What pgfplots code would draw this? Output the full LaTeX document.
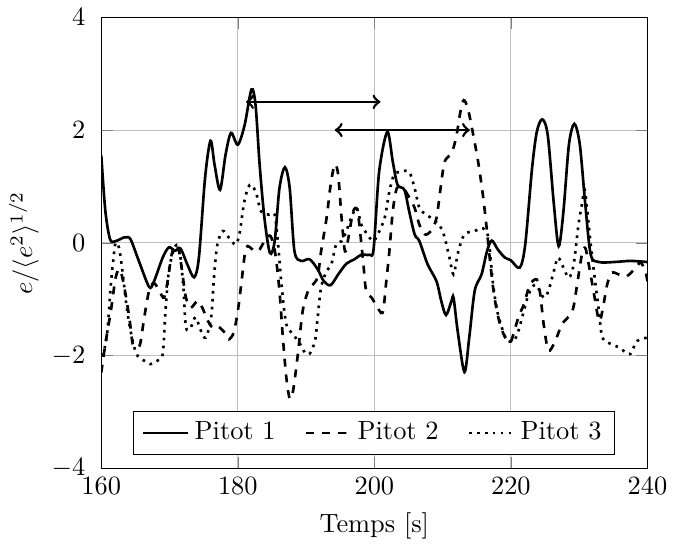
\documentclass[border=0pt]{standalone}
\usepackage{pgfplots}
\pgfplotsset{compat=1.18}
\begin{document}
\begin{tikzpicture}
\begin{axis}[
  scale only axis,
  width=207pt, height=171pt,
  xmin=160, xmax=240, ymin=-4, ymax=4,
  xtick={160,180,200,220,240},
  ytick={-4,-2,0,2,4},
  grid=major,
  yticklabel style={xshift=-2.5pt},
  ylabel style={yshift=-2pt},
  xlabel={Temps [s]},
  ylabel={$e/\langle e^2\rangle^{1/2}$},
  legend columns=3,
  legend style={at={(0.5,0.03)}, anchor=south, draw=black,
    /tikz/every even column/.append style={column sep=9pt}},
]
\addplot[black, line width=1pt, smooth, tension=0.5] coordinates {
(160,1.55) (160.6,0.56) (161.3,0.06) (162.1,0.03) (163.0,0.08) (163.6,0.10)
(164.3,0.06) (165.5,-0.32) (167.0,-0.78) (167.7,-0.69) (169.0,-0.26) (169.9,-0.08)
(170.8,-0.14) (171.6,-0.10) (172.6,-0.38) (173.6,-0.61) (174.3,-0.26) (175.2,1.15)
(176.0,1.81) (176.6,1.38) (177.4,0.94) (178.2,1.56) (179.0,1.95) (180.0,1.74)
(181.0,2.09) (182.0,2.72) (182.6,2.44) (183.2,1.38) (183.9,0.44) (184.7,-0.18)
(185.4,0.03) (186.1,0.97) (186.9,1.34) (187.6,0.97) (188.3,-0.15) (189.3,-0.32)
(190.5,-0.29) (191.7,-0.47) (192.6,-0.68) (193.6,-0.75) (194.7,-0.56) (195.9,-0.37)
(197.1,-0.29) (198.1,-0.21) (199.3,-0.21) (199.9,-0.10) (200.7,1.26) (201.9,1.97)
(202.7,1.44) (203.4,1.03) (204.4,0.94) (205.1,0.56) (205.9,0.15) (206.6,0.03)
(207.8,-0.38) (209.1,-0.68) (209.8,-1.03) (210.5,-1.28) (211.3,-1.03) (211.6,-0.97)
(212.2,-1.56) (213.2,-2.29) (213.9,-1.68) (214.7,-0.85) (215.7,-0.56) (216.5,-0.15)
(217.2,0.04) (218.1,-0.12) (219.1,-0.26) (220.0,-0.31) (221.3,-0.44) (222.1,-0.03)
(223.1,1.32) (223.8,1.97) (224.6,2.19) (225.4,1.91) (226.3,0.68) (227.0,-0.06)
(227.7,0.56) (228.5,1.74) (229.3,2.11) (230.1,1.74) (230.9,0.68) (231.7,-0.21)
(232.9,-0.34) (235.1,-0.34) (237.5,-0.32) (240.0,-0.34)
};
\addlegendentry{Pitot 1}
\addplot[black, line width=1pt, dashed, smooth, tension=0.5] coordinates {
(160.0,-2.3) (160.6,-1.79) (161.4,-1.21) (162.1,-0.62) (162.7,-0.47) (163.3,-0.74)
(164.1,-1.32) (164.6,-1.79) (165.2,-1.85) (165.7,-1.79) (166.3,-1.32) (167.0,-0.85)
(167.7,-0.71) (168.5,-0.85) (169.2,-0.97) (169.8,-0.62) (170.3,-0.21) (170.9,-0.03)
(171.4,-0.15) (171.9,-0.56) (172.4,-0.97) (173.1,-1.15) (174.1,-1.03) (174.8,-1.15)
(175.6,-1.38) (176.3,-1.5) (177.0,-1.47) (178.3,-1.62) (178.7,-1.71) (179.4,-1.59)
(180.0,-1.21) (180.5,-0.74) (181.2,-0.09) (182.2,-0.12) (183.0,-0.15) (184.0,0.05)
(184.8,0.12) (185.5,-0.2) (186.1,-0.85) (186.6,-1.68) (187.1,-2.38) (187.6,-2.76)
(188.1,-2.62) (188.8,-1.97) (189.5,-1.21) (190.3,-0.85) (191.0,-0.74) (191.7,-0.6)
(192.2,-0.15) (193.0,0.44) (193.6,1.03) (194.2,1.39) (194.7,1.21) (195.2,0.44)
(195.7,-0.15) (196.2,0.09) (196.9,0.56) (197.5,0.59) (197.9,0.21) (198.4,-0.38)
(198.8,-0.85) (199.6,-0.97) (200.2,-1.09) (201.2,-1.24) (201.7,-0.74) (202.2,-0.15)
(202.7,0.56) (203.3,0.97) (204.2,0.97) (204.9,0.85) (205.9,0.62) (206.6,0.32)
(207.4,0.15) (208.3,0.21) (209.1,0.44) (209.7,0.97) (210.3,1.44) (211.3,1.59)
(212.0,1.88) (212.6,2.32) (213.1,2.53) (213.7,2.38) (214.4,1.97) (215.2,1.44)
(215.9,0.85) (216.5,0.21) (217.0,-0.38) (217.6,-0.97) (218.4,-1.44) (219.3,-1.71)
(220.0,-1.75) (221.1,-1.32) (221.9,-1.09) (222.8,-0.74) (223.8,-0.65) (224.3,-0.91)
(224.8,-1.44) (225.5,-1.91) (226.5,-1.74) (227.5,-1.44) (229.0,-1.21) (229.7,-0.74)
(230.4,-0.21) (230.9,-0.09) (231.4,-0.38) (232.1,-0.85) (232.9,-1.38) (233.4,-1.21)
(234.1,-0.74) (234.8,-0.53) (235.8,-0.56) (237.0,-0.59) (238.3,-0.44) (239.0,-0.35)
(239.7,-0.5) (240.0,-0.68)
};
\addlegendentry{Pitot 2}
\addplot[black, line width=1pt, dotted, smooth, tension=0.5] coordinates {
(160.0,-2.0) (160.4,-1.91) (160.9,-1.56) (161.4,-0.74) (161.8,-0.26) (162.1,0.0)
(162.6,-0.09) (163.1,-0.5) (163.8,-1.21) (164.6,-1.74) (165.3,-2.0) (166.3,-2.09)
(167.2,-2.15) (168.2,-2.09) (169.0,-1.97) (169.4,-1.21) (169.9,-0.5) (170.7,-0.09)
(171.4,-0.09) (172.0,-0.74) (172.4,-1.5) (173.1,-1.5) (173.8,-1.32) (174.6,-1.56)
(175.3,-1.68) (176.1,-1.32) (176.5,-0.62) (177.0,-0.03) (177.8,0.21) (178.7,0.09)
(179.7,-0.03) (180.3,0.2) (180.9,0.7) (181.5,0.98) (182.0,1.03) (182.7,0.88)
(183.4,0.56) (184.6,0.5) (185.4,0.5) (185.9,-0.03) (186.4,-0.74) (187.1,-1.44)
(188.1,-1.62) (189.1,-1.79) (189.8,-1.94) (190.5,-1.97) (191.3,-1.74) (191.7,-1.32)
(192.2,-0.79) (193.0,-0.5) (193.7,-0.38) (194.4,-0.03) (195.2,0.03) (195.9,0.21)
(196.6,0.44) (197.4,0.62) (198.1,0.32) (198.8,0.18) (199.8,0.03) (200.5,0.15)
(201.5,0.44) (202.2,0.91) (202.9,1.21) (203.9,1.26) (205.1,1.26) (205.9,0.97)
(206.6,0.62) (207.6,0.5) (208.8,0.4) (210.0,0.21) (211.0,-0.26) (211.6,-0.56)
(212.3,-0.15) (213.2,0.15) (214.7,0.21) (215.9,0.26) (216.7,0.09) (217.4,-0.74)
(218.1,-1.26) (219.3,-1.70) (220.4,-1.74) (221.1,-1.56) (221.9,-1.21) (222.6,-0.91)
(223.6,-0.74) (224.8,-0.97) (225.5,-0.85) (226.3,-0.5) (226.9,-0.26) (227.7,-0.44)
(228.5,-0.62) (229.2,-0.38) (229.9,0.32) (230.4,0.68) (230.8,0.94) (231.2,0.56)
(231.7,-0.03) (232.4,-0.74) (232.9,-1.21) (233.4,-1.68) (234.6,-1.79) (235.8,-1.85)
(236.8,-1.94) (237.5,-1.97) (238.5,-1.74) (240.0,-1.68)
};
\addlegendentry{Pitot 3}
\addplot[black, line width=1pt, <->, forget plot] coordinates {(181.2,2.5) (200.9,2.5)};
\addplot[black, line width=1pt, <->, forget plot] coordinates {(194.2,2.0) (214.0,2.0)};
\end{axis}
\end{tikzpicture}
\end{document}
